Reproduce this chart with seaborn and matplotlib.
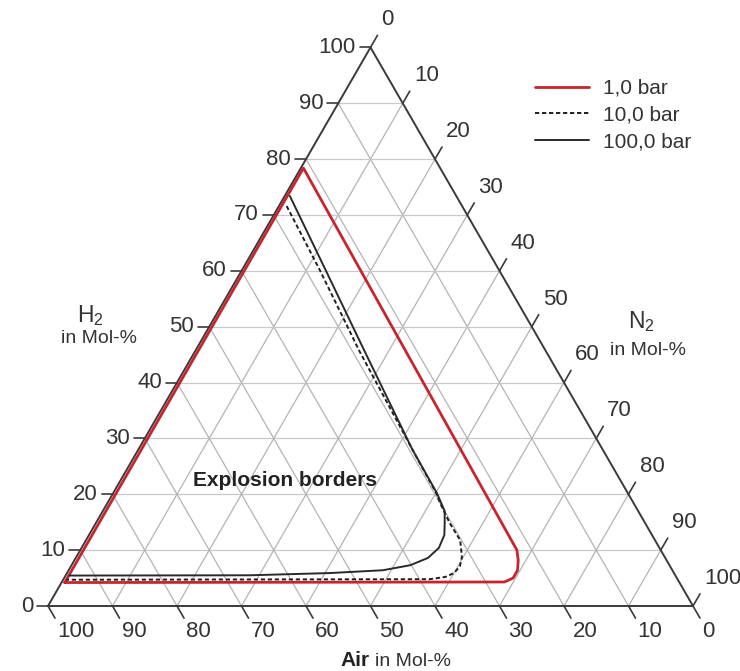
import numpy as np
import pandas as pd
import matplotlib
matplotlib.use("Agg")
import matplotlib.pyplot as plt
import seaborn as sns

# ---- data (mol-% H2 and N2; air = 100 - H2 - N2) ----
grid_values = [10, 20, 30, 40, 50, 60, 70, 80, 90]
tick_values = [0, 10, 20, 30, 40, 50, 60, 70, 80, 90, 100]
series_labels = ["1,0 bar", "10,0 bar", "100,0 bar"]

red_h2 = [4.2, 78.4, 10.0, 8.2, 6.4, 5.0, 4.3, 4.2]
red_n2 = [0.5, 0.4, 67.7, 68.8, 69.6, 69.6, 68.6, 0.5]

das_h2 = [71.6, 60.0, 45.7, 28.0, 20.2, 18.4, 14.8, 11.8, 8.75, 7.1, 5.9, 5.2, 4.8, 4.7]
das_n2 = [1.2, 12.2, 25.4, 42.5, 50.1, 51.6, 54.9, 58.0, 59.8, 60.3, 60.0, 59.0, 56.8, 0.5]

sol_h2 = [73.4, 60.0, 45.7, 28.0, 20.2, 17.0, 14.8, 12.7, 10.4, 8.6, 7.3, 6.4, 5.9, 5.5, 5.45]
sol_n2 = [0.8, 13.1, 26.2, 42.5, 50.2, 53.0, 54.1, 55.1, 55.4, 54.6, 52.5, 48.7, 40.8, 28.6, 0.6]

# ---- setup ----
sns.set_theme(style="white")
plt.rcParams["font.family"] = ["Liberation Sans", "DejaVu Sans"]
plt.rcParams["mathtext.default"] = "regular"

W, H = 740, 671
fig = plt.figure(figsize=(W / 100, H / 100), dpi=100)
ax = fig.add_axes([0, 0, 1, 1])
S = 6.45          # pixels per mol-% along a side
X0, Y0 = 48, 606  # pixel position of the 100 % air corner
ax.set_xlim(-X0 / S, (W - X0) / S)
ax.set_ylim(-(H - Y0) / S, Y0 / S)
ax.axis("off")

R3 = np.sqrt(3) / 2


def tern(h2, n2):
    h2 = np.asarray(h2, float)
    n2 = np.asarray(n2, float)
    return n2 + h2 / 2, h2 * R3


def fx(px):
    return px / W


def fy(py):
    return 1 - py / H


# ---- grid ----
for v in grid_values:
    # constant H2
    x, y = tern([v, v], [0, 100 - v])
    ax.plot(x, y, color="#c9c9c9", lw=0.9, zorder=1)
    # constant air
    x, y = tern([0, 100 - v], [100 - v, 0])
    ax.plot(x, y, color="#b4b4b4", lw=0.9, zorder=1)
    # constant N2
    x, y = tern([0, 100 - v], [v, v])
    ax.plot(x, y, color="#b4b4b4", lw=0.9, zorder=1)

# ---- triangle frame ----
x, y = tern([0, 0, 100, 0], [0, 100, 0, 0])
ax.plot(x, y, color="#3a3a3a", lw=1.4, zorder=2, solid_joinstyle="miter")

# ---- ticks and tick labels ----
tick_col = "#3a3a3a"
txt_col = "#333333"
fs_tick = 16
Ll = 11 / S
Ld = 14 / S
for v in tick_values:
    # H2 (left side)
    px, py = tern(v, 0)
    ax.plot([px, px - Ll], [py, py], color=tick_col, lw=1.2, zorder=2)
    ax.text(px - Ll - 4 / S, py, str(v), ha="right", va="center",
            fontsize=fs_tick, color=txt_col)
    # Air (bottom side), value v -> N2 = 100 - v
    px, py = tern(0, 100 - v)
    ex, ey = px + Ld * 0.5, py - Ld * R3
    ax.plot([px, ex], [py, ey], color=tick_col, lw=1.2, zorder=2)
    ax.text(ex + 2 / S, ey - 3 / S, str(v), ha="left", va="top",
            fontsize=fs_tick, color=txt_col)
    # N2 (right side)
    px, py = tern(100 - v, v)
    ex, ey = px + Ld * 0.5, py + Ld * R3
    ax.plot([px, ex], [py, ey], color=tick_col, lw=1.2, zorder=2)
    ax.text(ex + 4 / S, ey + 5 / S, str(v), ha="left", va="bottom",
            fontsize=fs_tick, color=txt_col)

# ---- curves ----
curves = [
    (red_h2, red_n2, series_labels[0], "#c8242c", "-", 2.0),
    (das_h2, das_n2, series_labels[1], "#1e1e1e", (0, (2.2, 1.4)), 1.4),
    (sol_h2, sol_n2, series_labels[2], "#2a2a2a", "-", 1.4),
]
for i, (h, n, lab, col, ls, lw) in enumerate(curves):
    x, y = tern(h, n)
    df = pd.DataFrame({"x": x, "y": y})
    sns.lineplot(data=df, x="x", y="y", sort=False, estimator=None, ax=ax,
                 color=col, linestyle=ls, lw=lw, label=lab, zorder=3 + i)

ax.set_xlim(-X0 / S, (W - X0) / S)
ax.set_ylim(-(H - Y0) / S, Y0 / S)
ax.axis("off")

leg = ax.legend(loc="upper left", bbox_to_anchor=(fx(535), fy(79)),
                bbox_transform=fig.transFigure, frameon=False,
                borderpad=0, borderaxespad=0, handlelength=2.6,
                handletextpad=0.65, labelspacing=0.36, fontsize=15)
for t in leg.get_texts():
    t.set_color(txt_col)

# ---- titles ----
fig.text(fx(90), fy(316), "H$_2$", ha="center", va="center", fontsize=16.5, color=txt_col)
fig.text(fx(99), fy(339), "in Mol-%", ha="center", va="center", fontsize=14, color=txt_col)
fig.text(fx(641), fy(322), "N$_2$", ha="center", va="center", fontsize=16.5, color=txt_col)
fig.text(fx(648), fy(351), "in Mol-%", ha="center", va="center", fontsize=14, color=txt_col)
fig.text(fx(370), fy(660), "Air", ha="right", va="center", fontsize=15,
         fontweight="bold", color="#222222")
fig.text(fx(375), fy(661), "in Mol-%", ha="left", va="center", fontsize=14, color=txt_col)
fig.text(fx(285), fy(481), "Explosion borders", ha="center", va="center",
         fontsize=15, fontweight="bold", color="#222222")

fig.savefig("out.png", dpi=100)
